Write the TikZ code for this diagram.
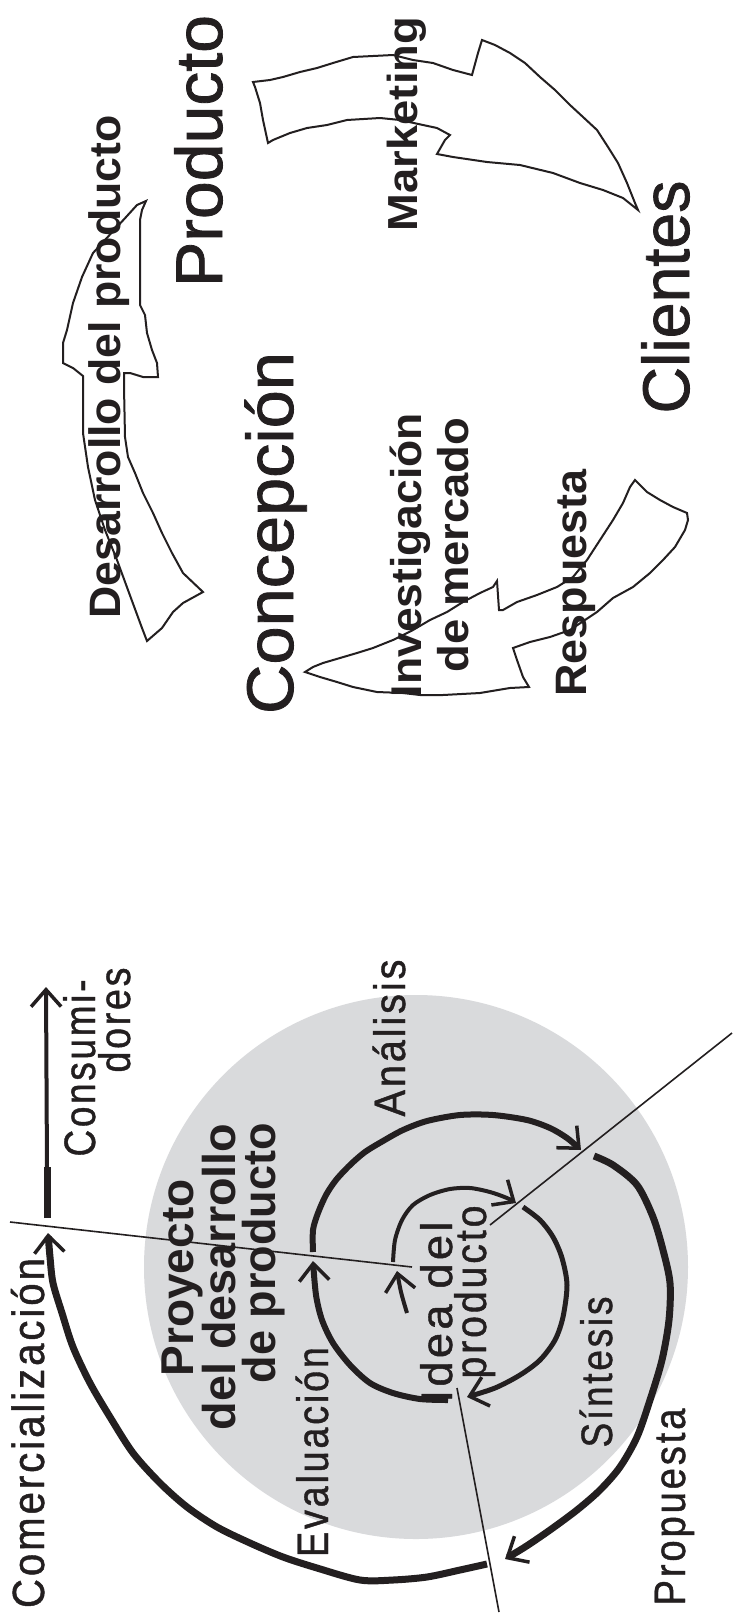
\documentclass[tikz,border=0pt]{standalone}
\usepackage{fontspec}
\setmainfont{Liberation Sans}
\newfontfamily\narrowfont[FakeStretch=0.82,LetterSpace=6,FakeBold=0.9]{Liberation Sans}
\newfontfamily\heavyfont[FakeBold=1.2]{Liberation Sans}
\usepackage{graphicx}
\usetikzlibrary{arrows.meta}
\definecolor{ink}{RGB}{35,31,32}
\definecolor{disk}{RGB}{217,218,220}
\newcommand\ftx[3]{\fontsize{#1}{#1}\selectfont\resizebox{#2pt}{\height}{#3}}
\begin{document}
\begin{tikzpicture}[x=1pt,y=-1pt,
  txt/.style={rotate=90,anchor=base,inner sep=0pt,text=ink},
  blockarrow/.style={draw=ink,line width=2pt,line join=miter},
  radial/.style={draw=ink,line width=1.6pt},
  barbtip/.style={-{Straight Barb[length=17pt,width=30pt,line width=3.5pt]}}
]
\useasboundingbox (0,0) rectangle (732,1623);
\fill[white] (0,0) rectangle (732,1623);

% ---------- top: block arrows ----------
\draw[blockarrow] (146,201) -- (137,205) -- (127,216) -- (93,253) -- (82,277) -- (73,303) -- (67,330) -- (63,343) -- (63,363) -- (73,368) -- (83,376) -- (83,433) -- (88,467) -- (95,500) -- (105,530) -- (117,560) -- (128,590) -- (142,628) -- (147,641)
  -- (162,628) -- (173,612) -- (183,603) -- (203,592)
  -- (183,573) -- (172,553) -- (162,533) -- (153,513) -- (143,493) -- (135,473) -- (128,457) -- (125,437) -- (124,387) -- (124,373) -- (130,373) -- (143,377) -- (158,377)
  -- (157,363) -- (152,350) -- (147,333) -- (145,315) -- (140,305) -- (140,220) -- (142,210) -- cycle;

\draw[blockarrow] (253,82) -- (270,80) -- (283,77) -- (300,72) -- (317,68) -- (333,63) -- (353,57) -- (393,55) -- (413,60) -- (433,63) -- (453,70) -- (472,75)
  -- (478,53) -- (482,40)
  -- (495,45) -- (510,53) -- (525,63) -- (540,77) -- (555,90) -- (570,105) -- (583,117) -- (597,130) -- (608,147) -- (618,163) -- (627,183) -- (635,203) -- (638,210)
  -- (623,198) -- (603,190) -- (580,183) -- (553,173) -- (520,165) -- (487,162) -- (453,157) -- (437,154)
  -- (445,140) -- (450,135)
  -- (437,128) -- (423,125) -- (400,120) -- (380,118) -- (347,120) -- (327,125) -- (307,128) -- (290,133) -- (273,140) -- (268,143)
  -- (263,120) -- (260,103) -- (255,87) -- cycle;

\draw[blockarrow] (305,672) -- (313,667) -- (323,663) -- (340,658) -- (357,653) -- (373,648) -- (393,640) -- (413,630) -- (430,620) -- (447,612) -- (463,602) -- (480,593) -- (493,587) -- (497,581)
  -- (499,610) -- (503,610) -- (517,602) -- (537,595) -- (557,587) -- (573,577) -- (587,560) -- (600,540) -- (613,520) -- (623,503) -- (630,487) -- (635,480)
  -- (647,492) -- (660,500) -- (673,507) -- (687,513) -- (688,520)
  -- (685,530) -- (675,547) -- (663,560) -- (650,573) -- (633,587) -- (613,598) -- (597,612) -- (570,630) -- (550,637) -- (530,642) -- (513,648)
  -- (517,660) -- (523,677) -- (529,687)
  -- (510,688) -- (480,693) -- (443,695) -- (420,695) -- (403,693) -- (377,692) -- (353,687) -- (337,682) -- (320,677) -- cycle;

% ---------- top: texts ----------
\node[txt] (desarrollo) at (120,367) {\ftx{44}{503}{\bfseries Desarrollo del producto}};
\node[txt] (producto) at (222,151) {\ftx{66}{272}{\heavyfont Producto}};
\node[txt] (marketing) at (417,124) {\ftx{42}{214}{\bfseries Marketing}};
\node[txt] (concepcion) at (293,533) {\ftx{66}{362}{\heavyfont Concepción}};
\node[txt] (clientes) at (689,297) {\ftx{66}{233}{\heavyfont Clientes}};
\node[txt] (investig) at (421,555) {\ftx{43}{284}{\bfseries Investigación}};
\node[txt] (mercado) at (468,545) {\ftx{43}{255}{\bfseries de mercado}};
\node[txt] (respuesta) at (586,583) {\ftx{44}{227}{\bfseries Respuesta}};

% ---------- bottom: spiral ----------
\fill[disk] (416,1267) circle[radius=272];

\draw[radial] (10,1222) -- (412,1267);
\draw[radial] (490,1225) -- (732,1033);
\draw[radial] (457,1388) -- (499,1612);

% consumidores arrow
\draw[ink,line width=7pt] (47,1218) -- (47,1167);
\draw[ink,line width=4pt,barbtip] (47,1170) -- (46,987);

% loop 0
\draw[ink,line width=4pt,barbtip] plot[smooth] coordinates {(407,1313) (401,1292) (397,1271)};
% loop 1
\draw[ink,line width=4pt,barbtip] plot[smooth] coordinates {(393,1262) (395,1240) (402,1220) (413,1205) (430,1195) (450,1189) (470,1188) (490,1192) (507,1198) (516,1203)};
% loop 1b
\draw[ink,line width=5pt,barbtip] plot[smooth] coordinates {(523,1207) (540,1220) (553,1237) (562,1258) (567,1285) (563,1317) (555,1340) (540,1360) (520,1375) (495,1388) (467,1397)};
% loop 2
\draw[ink,line width=6pt,barbtip] plot[smooth] coordinates {(448,1400) (420,1399) (393,1393) (370,1383) (350,1365) (333,1343) (322,1320) (316,1295) (313,1261)};
% loop 2b
\draw[ink,line width=6pt,barbtip] plot[smooth] coordinates {(313,1252) (313,1230) (318,1213) (326,1195) (336,1180) (350,1165) (365,1152) (383,1141) (403,1130) (427,1121) (460,1115) (493,1115) (527,1120) (550,1128) (567,1138) (581,1150)};
% loop 3
\draw[ink,line width=7pt,barbtip] plot[smooth] coordinates {(594,1156) (613,1165) (637,1185) (653,1217) (663,1250) (670,1283) (669,1320) (662,1360) (650,1400) (637,1437) (620,1467) (600,1490) (577,1510) (550,1530) (525,1547) (505,1559)};
% loop 4
\draw[ink,line width=7pt,barbtip] plot[smooth] coordinates {(487,1564) (460,1570) (427,1577) (393,1580) (360,1580) (317,1568) (283,1557) (250,1543) (217,1527) (187,1507) (160,1483) (133,1453) (110,1417) (90,1383) (73,1347) (62,1313) (53,1283) (50,1257) (48,1233)};

% ---------- bottom: texts ----------
\node[txt] (consumi) at (95,1068) {\ftx{44}{177}{\narrowfont Consumi-}};
\node[txt] (dores) at (130,1020) {\ftx{44}{105}{\narrowfont dores}};
\node[txt] (comerc) at (44,1433) {\ftx{45}{350}{\narrowfont Comercialización}};
\node[txt] (proyecto) at (193,1278) {\ftx{46}{197}{\bfseries Proyecto}};
\node[txt] (deldes) at (235,1277) {\ftx{46}{307}{\bfseries del desarrollo}};
\node[txt] (deprod) at (275,1253) {\ftx{46}{260}{\bfseries de producto}};
\node[txt] (analisis) at (405,1038) {\ftx{44}{157}{\narrowfont Análisis}};
\node[txt] (evaluacion) at (328,1452) {\ftx{44}{210}{\narrowfont Evaluación}};
\node[txt] (ideadel) at (452,1312) {\ftx{44}{181}{\narrowfont Idea del}};
\node[txt] (ideaprod) at (486,1292) {\ftx{44}{173}{\narrowfont producto}};
\node[txt] (sintesis) at (612,1372) {\ftx{44}{151}{\narrowfont Síntesis}};
\node[txt] (propuesta) at (685,1507) {\ftx{44}{197}{\narrowfont Propuesta}};
\end{tikzpicture}
\end{document}
